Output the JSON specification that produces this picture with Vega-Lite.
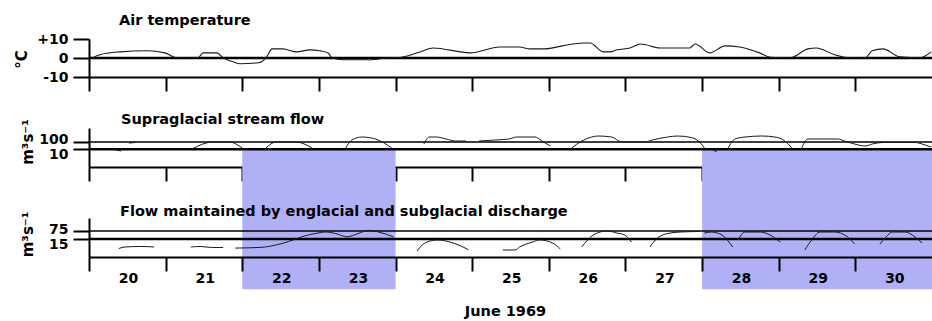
{
  "$schema": "https://vega.github.io/schema/vega-lite/v6.json",
  "autosize": {"type": "none"},
  "padding": {"left": 89, "top": 39, "right": 843, "bottom": 282},
  "background": "white",
  "bounds": "flush",
  "spacing": 51,
  "datasets": {
    "temp": [
      {"day": 20.05, "t": 0.1}, {"day": 20.14, "t": 1.7}, {"day": 20.40, "t": 3.2}, {"day": 20.76, "t": 3.8},
      {"day": 20.99, "t": 2.7}, {"day": 21.15, "t": 0.1}, {"day": 21.42, "t": 0.1}, {"day": 21.49, "t": 2.7},
      {"day": 21.67, "t": 2.7}, {"day": 21.75, "t": 0.1}, {"day": 21.88, "t": -2.0}, {"day": 21.97, "t": -3.0},
      {"day": 22.21, "t": -2.5}, {"day": 22.31, "t": 0.1}, {"day": 22.39, "t": 4.8}, {"day": 22.53, "t": 4.8},
      {"day": 22.71, "t": 3.2}, {"day": 22.88, "t": 4.3}, {"day": 23.01, "t": 3.8}, {"day": 23.12, "t": 2.6},
      {"day": 23.17, "t": 0.1}, {"day": 23.31, "t": -0.9}, {"day": 23.67, "t": -0.9}, {"day": 23.93, "t": 0.1},
      {"day": 24.02, "t": 0.1}, {"day": 24.32, "t": 3.2}, {"day": 24.49, "t": 5.3}, {"day": 24.97, "t": 2.7},
      {"day": 25.36, "t": 5.8}, {"day": 25.62, "t": 5.8}, {"day": 25.75, "t": 4.8}, {"day": 25.95, "t": 4.8},
      {"day": 26.18, "t": 6.4}, {"day": 26.45, "t": 7.9}, {"day": 26.54, "t": 7.9}, {"day": 26.71, "t": 3.2},
      {"day": 26.80, "t": 3.2}, {"day": 26.89, "t": 4.3}, {"day": 27.06, "t": 5.3}, {"day": 27.20, "t": 7.4},
      {"day": 27.45, "t": 5.3}, {"day": 27.84, "t": 5.3}, {"day": 27.91, "t": 7.4}, {"day": 28.10, "t": 2.7},
      {"day": 28.30, "t": 6.4}, {"day": 28.49, "t": 5.8}, {"day": 28.75, "t": 2.7}, {"day": 28.89, "t": 0.4},
      {"day": 29.15, "t": 0.1}, {"day": 29.38, "t": 4.8}, {"day": 29.49, "t": 5.3}, {"day": 29.73, "t": 1.7},
      {"day": 29.93, "t": 0.1}, {"day": 30.13, "t": 0.1}, {"day": 30.22, "t": 3.8}, {"day": 30.36, "t": 4.8},
      {"day": 30.58, "t": 0.6}, {"day": 30.84, "t": 0.1}, {"day": 30.99, "t": 3.2}
    ],
    "bands": [
      {"start": 22, "end": 24},
      {"start": 28, "end": 31}
    ],
    "supra": [
      {"seg": 1, "day": 20.35, "q": 7.7}, {"seg": 1, "day": 20.42, "q": 5.5},
      {"seg": 2, "day": 20.52, "q": 75}, {"seg": 2, "day": 20.61, "q": 88},
      {"seg": 3, "day": 21.34, "q": 10.6}, {"seg": 3, "day": 21.53, "q": 75}, {"seg": 3, "day": 21.60, "q": 104}, {"seg": 3, "day": 21.83, "q": 104}, {"seg": 3, "day": 22.00, "q": 15},
      {"seg": 4, "day": 22.31, "q": 15}, {"seg": 4, "day": 22.44, "q": 104}, {"seg": 4, "day": 22.70, "q": 104}, {"seg": 4, "day": 22.91, "q": 15},
      {"seg": 5, "day": 23.35, "q": 15}, {"seg": 5, "day": 23.43, "q": 200}, {"seg": 5, "day": 23.56, "q": 531}, {"seg": 5, "day": 23.74, "q": 277}, {"seg": 5, "day": 23.95, "q": 15},
      {"seg": 6, "day": 24.37, "q": 54}, {"seg": 6, "day": 24.44, "q": 531}, {"seg": 6, "day": 24.53, "q": 531}, {"seg": 6, "day": 24.66, "q": 277}, {"seg": 6, "day": 24.78, "q": 144}, {"seg": 6, "day": 24.92, "q": 144},
      {"seg": 7, "day": 25.09, "q": 144}, {"seg": 7, "day": 25.30, "q": 200}, {"seg": 7, "day": 25.48, "q": 277}, {"seg": 7, "day": 25.58, "q": 531}, {"seg": 7, "day": 25.82, "q": 531}, {"seg": 7, "day": 25.91, "q": 144}, {"seg": 7, "day": 26.02, "q": 28},
      {"seg": 8, "day": 26.30, "q": 15}, {"seg": 8, "day": 26.43, "q": 144}, {"seg": 8, "day": 26.56, "q": 531}, {"seg": 8, "day": 26.64, "q": 736}, {"seg": 8, "day": 26.82, "q": 531}, {"seg": 8, "day": 26.95, "q": 104}, {"seg": 8, "day": 27.08, "q": 104}, {"seg": 8, "day": 27.25, "q": 104}, {"seg": 8, "day": 27.35, "q": 200}, {"seg": 8, "day": 27.55, "q": 531}, {"seg": 8, "day": 27.68, "q": 736}, {"seg": 8, "day": 27.86, "q": 452}, {"seg": 8, "day": 27.99, "q": 54}, {"seg": 8, "day": 28.03, "q": 15},
      {"seg": 9, "day": 28.14, "q": 7.7}, {"seg": 9, "day": 28.19, "q": 4.5},
      {"seg": 10, "day": 28.34, "q": 15}, {"seg": 10, "day": 28.43, "q": 277}, {"seg": 10, "day": 28.56, "q": 531}, {"seg": 10, "day": 28.78, "q": 736}, {"seg": 10, "day": 28.95, "q": 531}, {"seg": 10, "day": 29.08, "q": 144}, {"seg": 10, "day": 29.17, "q": 15},
      {"seg": 11, "day": 29.30, "q": 15}, {"seg": 11, "day": 29.38, "q": 277}, {"seg": 11, "day": 29.77, "q": 277}, {"seg": 11, "day": 29.86, "q": 144}, {"seg": 11, "day": 29.99, "q": 54}, {"seg": 11, "day": 30.13, "q": 28}, {"seg": 11, "day": 30.22, "q": 54}, {"seg": 11, "day": 30.35, "q": 88}, {"seg": 11, "day": 30.78, "q": 88}, {"seg": 11, "day": 30.91, "q": 39}, {"seg": 11, "day": 30.99, "q": 20}
    ],
    "engl": [
      {"seg": 1, "day": 20.39, "q": 2.2}, {"seg": 1, "day": 20.47, "q": 3.0}, {"seg": 1, "day": 20.67, "q": 3.3}, {"seg": 1, "day": 20.85, "q": 3.0},
      {"seg": 2, "day": 21.33, "q": 3.0}, {"seg": 2, "day": 21.45, "q": 3.3}, {"seg": 2, "day": 21.60, "q": 2.7}, {"seg": 2, "day": 21.75, "q": 2.7},
      {"seg": 3, "day": 21.91, "q": 2.4}, {"seg": 3, "day": 22.24, "q": 2.75}, {"seg": 3, "day": 22.45, "q": 4.6}, {"seg": 3, "day": 22.60, "q": 8.8}, {"seg": 3, "day": 22.70, "q": 14.8}, {"seg": 3, "day": 22.81, "q": 27}, {"seg": 3, "day": 22.95, "q": 44}, {"seg": 3, "day": 23.09, "q": 60}, {"seg": 3, "day": 23.22, "q": 44}, {"seg": 3, "day": 23.37, "q": 23}, {"seg": 3, "day": 23.51, "q": 44}, {"seg": 3, "day": 23.65, "q": 83}, {"seg": 3, "day": 23.78, "q": 60}, {"seg": 3, "day": 23.97, "q": 23},
      {"seg": 4, "day": 24.28, "q": 1.33}, {"seg": 4, "day": 24.35, "q": 4.6}, {"seg": 4, "day": 24.45, "q": 9.9}, {"seg": 4, "day": 24.55, "q": 12.1}, {"seg": 4, "day": 24.78, "q": 5.7}, {"seg": 4, "day": 24.95, "q": 1.77},
      {"seg": 5, "day": 25.40, "q": 1.63}, {"seg": 5, "day": 25.56, "q": 1.63}, {"seg": 5, "day": 25.62, "q": 3.0}, {"seg": 5, "day": 25.79, "q": 8.1}, {"seg": 5, "day": 25.88, "q": 12.1}, {"seg": 5, "day": 26.05, "q": 6.6}, {"seg": 5, "day": 26.15, "q": 2.0},
      {"seg": 6, "day": 26.43, "q": 3.0}, {"seg": 6, "day": 26.58, "q": 33}, {"seg": 6, "day": 26.76, "q": 74}, {"seg": 6, "day": 26.89, "q": 49}, {"seg": 6, "day": 26.99, "q": 33}, {"seg": 6, "day": 27.08, "q": 8.1},
      {"seg": 7, "day": 27.32, "q": 3.0}, {"seg": 7, "day": 27.39, "q": 12.1}, {"seg": 7, "day": 27.52, "q": 40}, {"seg": 7, "day": 27.72, "q": 60}, {"seg": 7, "day": 27.97, "q": 67},
      {"seg": 8, "day": 28.03, "q": 49}, {"seg": 8, "day": 28.12, "q": 60}, {"seg": 8, "day": 28.26, "q": 33}, {"seg": 8, "day": 28.36, "q": 6.6}, {"seg": 8, "day": 28.40, "q": 3.0},
      {"seg": 9, "day": 28.47, "q": 12.1}, {"seg": 9, "day": 28.56, "q": 60}, {"seg": 9, "day": 28.76, "q": 60}, {"seg": 9, "day": 28.91, "q": 27}, {"seg": 9, "day": 29.02, "q": 8.1},
      {"seg": 10, "day": 29.34, "q": 1.63}, {"seg": 10, "day": 29.43, "q": 12.1}, {"seg": 10, "day": 29.54, "q": 60}, {"seg": 10, "day": 29.73, "q": 60}, {"seg": 10, "day": 29.90, "q": 22}, {"seg": 10, "day": 29.99, "q": 5.4},
      {"seg": 11, "day": 30.32, "q": 5.4}, {"seg": 11, "day": 30.40, "q": 22}, {"seg": 11, "day": 30.48, "q": 60}, {"seg": 11, "day": 30.65, "q": 60}, {"seg": 11, "day": 30.78, "q": 22}, {"seg": 11, "day": 30.87, "q": 6.6}
    ]
  },
  "config": {
    "view": {"stroke": null},
    "axis": {
      "domainColor": "black", "domainWidth": 2, "tickColor": "black", "tickWidth": 2, "grid": false,
      "labelFont": "DejaVu Sans", "labelFontSize": 14, "labelFontWeight": "bold", "labelColor": "black",
      "titleFont": "DejaVu Sans", "titleFontSize": 15, "titleFontWeight": "bold", "titleColor": "black",
      "zindex": 1
    },
    "axisY": {"tickSize": 16, "labelPadding": 5, "titleAngle": -90, "titleBaseline": "alphabetic", "titleAlign": "center"},
    "axisX": {"tickSize": 14},
    "title": {"font": "DejaVu Sans", "fontSize": 14.5, "fontWeight": "bold", "color": "black", "anchor": "start", "frame": "group", "baseline": "alphabetic"}
  },
  "vconcat": [
    {
      "width": 843, "height": 38,
      "title": {"text": "Air temperature", "dx": 30, "offset": 4},
      "layer": [
        {
          "data": {"values": [{}]},
          "mark": {"type": "rule", "strokeWidth": 2.5, "color": "black"},
          "encoding": {
            "y": {"datum": 0, "type": "quantitative", "scale": {"domain": [-10, 10], "nice": false, "zero": false},
                  "axis": {"values": [-10, 0, 10], "labelExpr": "datum.value > 0 ? '+' + datum.value : '' + datum.value", "title": "°C", "titleX": -63, "titleY": 20}}
          }
        },
        {
          "data": {"name": "temp"},
          "mark": {"type": "line", "interpolate": "monotone", "strokeWidth": 1.1, "color": "#1a1a1a"},
          "encoding": {
            "x": {"field": "day", "type": "quantitative", "scale": {"domain": [20, 31], "nice": false, "zero": false},
                  "axis": {"values": [20, 21, 22, 23, 24, 25, 26, 27, 28, 29, 30], "labels": false, "title": null}},
            "y": {"field": "t", "type": "quantitative", "scale": {"domain": [-10, 10], "nice": false, "zero": false},
                  "axis": {"values": [-10, 0, 10], "labelExpr": "datum.value > 0 ? '+' + datum.value : '' + datum.value", "title": "°C", "titleX": -63, "titleY": 20}}
          }
        }
      ]
    },
    {
      "width": 843, "height": 39,
      "title": {"text": "Supraglacial stream flow", "dx": 32, "offset": -9},
      "layer": [
        {
          "data": {"name": "bands"},
          "mark": {"type": "rect", "color": "#b0b0f6"},
          "encoding": {
            "x": {"field": "start", "type": "quantitative", "scale": {"domain": [20, 31], "nice": false, "zero": false},
                  "axis": {"values": [20, 21, 22, 23, 24, 25, 26, 27, 28, 29, 30], "labels": false, "title": null}},
            "x2": {"field": "end"},
            "y": {"datum": 10, "type": "quantitative", "scale": {"type": "log", "domain": [0.03, 10000], "nice": false},
                  "axis": {"values": [10, 100], "labelExpr": "'' + datum.value", "labelOffset": {"condition": {"test": "datum.value == 100", "value": -3}, "value": 5}, "title": "m³s⁻¹", "titleX": -57, "titleY": 13.5}},
            "y2": {"datum": 1.5e-19}
          }
        },
        {
          "data": {"values": [{}]},
          "mark": {"type": "rule", "strokeWidth": 1.5, "color": "black"},
          "encoding": {"y": {"datum": 100, "type": "quantitative"}}
        },
        {
          "data": {"values": [{}]},
          "mark": {"type": "rule", "strokeWidth": 2.5, "color": "black"},
          "encoding": {"y": {"datum": 10, "type": "quantitative"}}
        },
        {
          "data": {"name": "supra"},
          "mark": {"type": "line", "interpolate": "monotone", "strokeWidth": 1, "color": "#1a1a1a"},
          "encoding": {
            "x": {"field": "day", "type": "quantitative"},
            "y": {"field": "q", "type": "quantitative"},
            "detail": {"field": "seg", "type": "nominal"}
          }
        }
      ]
    },
    {
      "width": 843, "height": 39,
      "title": {"text": "Flow maintained by englacial and subglacial discharge", "dx": 31, "offset": -8},
      "layer": [
        {
          "data": {"values": [{}]},
          "mark": {"type": "rule", "strokeWidth": 1.5, "color": "black"},
          "encoding": {
            "y": {"datum": 75, "type": "quantitative", "scale": {"type": "log", "domain": [0.4, 1000], "nice": false},
                  "axis": {"values": [15, 75], "labelExpr": "'' + datum.value", "labelOffset": {"condition": {"test": "datum.value == 75", "value": -1}, "value": 6}, "title": "m³s⁻¹", "titleX": -57, "titleY": 16}}
          }
        },
        {
          "data": {"values": [{}]},
          "mark": {"type": "rule", "strokeWidth": 2.5, "color": "black"},
          "encoding": {"y": {"datum": 15, "type": "quantitative"}}
        },
        {
          "data": {"name": "engl"},
          "mark": {"type": "line", "interpolate": "monotone", "strokeWidth": 1, "color": "#1a1a1a"},
          "encoding": {
            "x": {"field": "day", "type": "quantitative", "scale": {"domain": [20, 31], "nice": false, "zero": false},
                  "axis": {"values": [20, 21, 22, 23, 24, 25, 26, 27, 28, 29, 30], "labelOffset": 39, "labelFlush": false, "labelOverlap": false, "labelPadding": 0,
                           "title": "June 1969", "titleX": 416, "titleY": 58, "titleBaseline": "alphabetic", "titleAlign": "center", "titleFontSize": 14.5}},
            "y": {"field": "q", "type": "quantitative"},
            "detail": {"field": "seg", "type": "nominal"}
          }
        }
      ]
    }
  ]
}
